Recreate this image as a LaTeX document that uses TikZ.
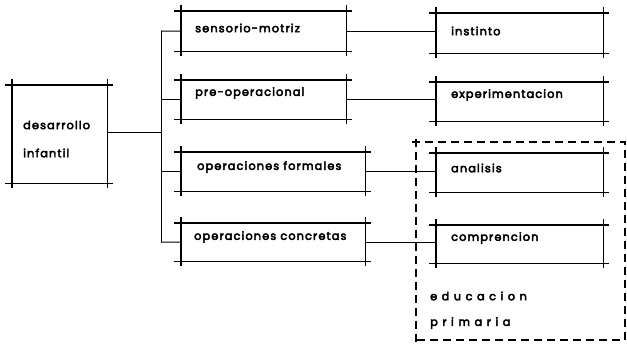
\documentclass[tikz,border=0pt]{standalone}
\usepackage{fontspec}
\setmainfont{Poppins}
\newfontfamily\labfont{Poppins}[LetterSpace=10,FakeBold=4]
\newfontfamily\widefont{Poppins}[LetterSpace=40,FakeBold=4]
\usetikzlibrary{calc}
\tikzset{
  bx/.style={rectangle, draw=none, inner sep=0pt, anchor=north west},
  hline/.style={line width=1.2pt},
  vline/.style={line width=1.8pt},
  conn/.style={line width=1pt},
  lab/.style={anchor=west, inner sep=0pt, font=\labfont\fontsize{11.3}{13}\selectfont},
  wide/.style={anchor=west, inner sep=0pt, font=\widefont\fontsize{11.3}{13}\selectfont},
  dsh/.style={line width=1.1pt, dash pattern=on 8pt off 5pt}
}
\newcommand\archbox[1]{%
  \draw[hline] ($(#1.north west)+(-7,0)$) -- ($(#1.north east)+(6,0)$);
  \draw[hline] ($(#1.south west)+(-7,0)$) -- ($(#1.south east)+(6,0)$);
  \draw[vline] ($(#1.north west)+(0,-6)$) -- ($(#1.south west)+(0,5)$);
  \draw[vline] ($(#1.north east)+(0,-6)$) -- ($(#1.south east)+(0,5)$);
}
\begin{document}
\begin{tikzpicture}[x=1pt,y=-1pt]
\useasboundingbox (0,0) rectangle (627,347);
% boxes
\node[bx, minimum width=95pt, minimum height=98pt] (dev) at (12,85) {};
\node[bx, minimum width=165pt, minimum height=40pt] (sm) at (181,11) {};
\node[bx, minimum width=165pt, minimum height=39pt] (po) at (181,80) {};
\node[bx, minimum width=184pt, minimum height=39pt] (of) at (181,152) {};
\node[bx, minimum width=184pt, minimum height=38pt] (oc) at (181,223) {};
\node[bx, minimum width=167pt, minimum height=40pt] (in) at (436,13) {};
\node[bx, minimum width=167pt, minimum height=39pt] (ex) at (436,82) {};
\node[bx, minimum width=167pt, minimum height=39pt] (an) at (436,153) {};
\node[bx, minimum width=167pt, minimum height=38pt] (co) at (436,225) {};
\archbox{dev}\archbox{sm}\archbox{po}\archbox{of}\archbox{oc}
\archbox{in}\archbox{ex}\archbox{an}\archbox{co}
% labels
\node[lab] (t1) at (23,125) {desarrollo};
\node[lab] (t2) at (23,153) {infantil};
\node[lab] (t3) at (195,28) {sensorio-motriz};
\node[lab] (t4) at (195,93) {pre-operacional};
\node[lab] (t5) at (197,167) {operaciones formales};
\node[lab] (t6) at (194,237) {operaciones concretas};
\node[lab] (t7) at (451,31) {instinto};
\node[lab] (t8) at (451,95) {experimentacion};
\node[lab] (t9) at (451,168) {analisis};
\node[lab] (t10) at (451,238) {comprencion};
\node[wide] (t11) at (430,296) {educacion};
\node[wide] (t12) at (430,323) {primaria};
% connectors
\coordinate (sp) at (161,133);
\coordinate (spt) at (161,31);
\coordinate (spb) at (161,242);
\draw[conn] (dev.east |- sp) -- (sp);
\draw[conn] (spt) -- (spb);
\draw[conn] (spt) -- (sm.west);
\draw[conn] (po.west -| sp) -- (po.west);
\draw[conn] (of.west -| sp) -- (of.west);
\draw[conn] (spb) -- (oc.west);
\draw[conn] (sm.east) -- (sm.east -| in.west);
\draw[conn] (po.east) -- (po.east -| ex.west);
\draw[conn] (of.east) -- (of.east -| an.west);
\draw[conn] (oc.east) -- (oc.east -| co.west);
% dashed region
\coordinate (d1) at (416,142);
\coordinate (d2) at (625,340);
\draw[dsh] ($(d1)+(-4,0)$) -- (d1 -| d2) -- (d2) -- ($(d2 -| d1)+(-4,0)$);
\draw[dsh] ($(d1)+(0,-3)$) -- ($(d2 -| d1)+(0,7)$);
\end{tikzpicture}
\end{document}
